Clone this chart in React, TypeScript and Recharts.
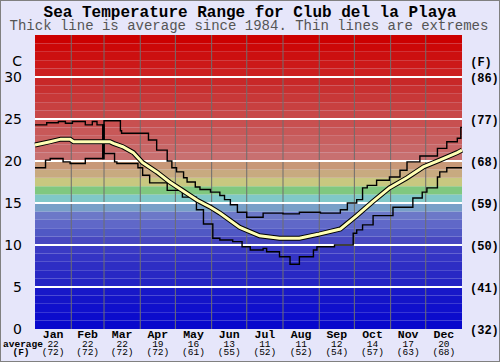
import React from "react";
import {
  LineChart,
  Line,
  XAxis,
  YAxis,
  ReferenceArea,
  ReferenceLine,
} from "recharts";

const monthNames = ["Jan", "Feb", "Mar", "Apr", "May", "Jun", "Jul", "Aug", "Sep", "Oct", "Nov", "Dec"];
const monthMidDays = [15.5, 45, 74.5, 105, 135.5, 166, 196.5, 227.5, 258, 288.5, 319, 349.5];
const monthEdgeDays = [31, 59, 90, 120, 151, 181, 212, 243, 273, 304, 334];
const monthAvgC = [22, 22, 22, 19, 16, 13, 11, 11, 12, 14, 17, 20];
const monthAvgF = [72, 72, 72, 72, 61, 55, 52, 52, 54, 57, 63, 68];

const celsiusTicks = [0, 5, 10, 15, 20, 25, 30];
const whiteLines = [5, 10, 15, 20, 25, 30];

// day of year -> deg C
const maxDays = [0, 10, 20, 26, 32, 43, 49, 53, 58, 59, 73, 74, 97, 104, 113, 117, 121, 127, 130, 137, 141, 150, 158, 162, 167, 173, 181, 195, 212, 226, 244, 261, 267, 275, 280, 284, 292, 303, 312, 318, 329, 344, 352, 361, 364, 365];
const maxTemps = [24.3, 24.55, 24.7, 24.5, 24.7, 24.3, 24.7, 24.3, 20.3, 24.8, 23.6, 23.3, 22.5, 21.3, 20.0, 19.2, 18.7, 18.0, 17.5, 16.9, 16.6, 16.3, 15.9, 15.4, 14.8, 13.9, 13.3, 13.8, 13.7, 13.9, 13.8, 14.2, 15.0, 15.4, 16.8, 17.1, 17.7, 18.1, 18.9, 19.9, 20.6, 21.5, 22.3, 22.7, 24.0, 24.0];

const minDays = [0, 9, 13, 24, 30, 43, 58, 59, 68, 70, 88, 92, 98, 113, 126, 138, 144, 152, 158, 169, 177, 184, 195, 198, 209, 218, 226, 238, 241, 256, 272, 275, 280, 289, 306, 323, 331, 335, 344, 346, 352, 365];
const minTemps = [19.2, 20.1, 20.3, 19.9, 19.7, 20.3, 24.3, 20.9, 19.9, 19.7, 19.2, 18.3, 17.4, 16.5, 15.7, 14.2, 12.5, 10.8, 10.6, 10.4, 9.8, 9.4, 9.6, 9.2, 8.6, 7.7, 8.6, 9.4, 9.8, 10.0, 11.4, 11.8, 12.4, 13.5, 14.5, 15.6, 16.3, 16.8, 18.1, 18.7, 19.2, 19.2];

const avgDays = [0, 13, 22, 30, 33, 50, 64, 67, 75, 84, 92, 104, 115, 126, 139, 150, 158, 175, 192, 209, 226, 243, 261, 275, 289, 303, 318, 332, 346, 361, 365];
const avgTemps = [21.9, 22.3, 22.6, 22.6, 22.3, 22.3, 22.3, 22.1, 21.7, 21.0, 19.8, 18.7, 17.5, 16.5, 15.3, 14.5, 13.8, 12.1, 11.1, 10.8, 10.8, 11.3, 11.9, 13.5, 15.2, 16.8, 18.0, 19.3, 20.1, 21.0, 21.3];

// one colour per 1 degree band, from 0 upwards
const bandColors = [
  "#0808cc", "#0c0ccc", "#1010cc", "#1414c8", "#1818c8",
  "#2424c4", "#2828c4", "#2e2ec4", "#3434c4", "#3a3ac4",
  "#4848c0", "#5058c4", "#6068c8", "#6c78c8", "#78a0c8",
  "#80c8c8", "#80c880", "#c8c880", "#c8aa80", "#c89878",
  "#c87070", "#c86868", "#c86060", "#c85858", "#c85050",
  "#c84848", "#c84040", "#c83838", "#c83030", "#c82828",
  "#cc2020", "#cc1818", "#cc1010", "#cc0808", "#cc0000",
];

const maxData = maxDays.map((day, i) => ({ day, t: maxTemps[i] }));
const minData = minDays.map((day, i) => ({ day, t: minTemps[i] }));
const avgData = avgDays.map((day, i) => ({ day, t: avgTemps[i] }));

const mono = "'Liberation Mono', 'DejaVu Sans Mono', monospace";
const sans = "'DejaVu Sans', Verdana, sans-serif";

function MonthTick(props: any) {
  const { x, y, index } = props;
  return (
    <g fontFamily={mono} textAnchor="middle" fill="#000">
      <text x={x} y={y + 8.5} fontSize={11.5} fontWeight={700}>
        {monthNames[index]}
      </text>
      <text x={x} y={y + 17.5} fontSize={9.5}>
        {monthAvgC[index]}
      </text>
      <text x={x} y={y + 25.5} fontSize={9.5}>
        ({monthAvgF[index]})
      </text>
    </g>
  );
}

function FahrenheitTick(props: any) {
  const { x, y, payload } = props;
  return (
    <text x={x} y={y + 4.5} textAnchor="start" fontFamily={mono} fontWeight={700} fontSize={12} fill="#000">
      ({Math.round((payload.value * 9) / 5 + 32)})
    </text>
  );
}

export default function App() {
  return (
    <div
      style={{
        position: "absolute",
        left: 0,
        top: 0,
        width: 500,
        height: 362,
        background: "#e6e6fa",
        outline: "1px solid #808080",
        outlineOffset: -1,
      }}
    >
      <LineChart
        width={500}
        height={362}
        margin={{ top: 35, right: 0, bottom: 0, left: 0 }}
      >
        <XAxis
          dataKey="day"
          type="number"
          domain={[0, 365]}
          ticks={monthMidDays}
          interval={0}
          tick={<MonthTick />}
          tickSize={0}
          tickMargin={0}
          axisLine={false}
          height={33}
        />
        <YAxis
          yAxisId="c"
          domain={[0, 35]}
          ticks={celsiusTicks}
          width={35}
          tickSize={0}
          tickMargin={13}
          axisLine={false}
          tick={{ fill: "#000", fontSize: 14, fontFamily: sans }}
        />
        <YAxis
          yAxisId="f"
          orientation="right"
          domain={[0, 35]}
          ticks={celsiusTicks}
          interval={0}
          width={38}
          tickSize={0}
          tickMargin={8}
          axisLine={false}
          tick={<FahrenheitTick />}
        />
        {bandColors.map((color, i) => (
          <ReferenceArea
            key={"band" + i}
            yAxisId="c"
            y1={i}
            y2={i + 1}
            fill={color}
            fillOpacity={1}
            stroke="none"
          />
        ))}
        {monthEdgeDays.map((d) => (
          <ReferenceLine key={"m" + d} yAxisId="c" x={d} stroke="#6e6e6e" strokeWidth={1} />
        ))}
        {whiteLines.map((v) => (
          <ReferenceLine key={"h" + v} yAxisId="c" y={v} stroke="#ffffff" strokeWidth={2} />
        ))}
        <Line
          yAxisId="f"
          data={avgData}
          dataKey="t"
          stroke="none"
          dot={false}
          legendType="none"
          isAnimationActive={false}
        />
        <Line
          yAxisId="c"
          data={maxData}
          dataKey="t"
          type="stepAfter"
          stroke="#000"
          strokeWidth={1.4}
          dot={false}
          isAnimationActive={false}
        />
        <Line
          yAxisId="c"
          data={minData}
          dataKey="t"
          type="stepAfter"
          stroke="#000"
          strokeWidth={1.4}
          dot={false}
          isAnimationActive={false}
        />
        <Line
          yAxisId="c"
          data={avgData}
          dataKey="t"
          type="linear"
          stroke="#000"
          strokeWidth={5}
          dot={false}
          isAnimationActive={false}
        />
        <Line
          yAxisId="c"
          data={avgData}
          dataKey="t"
          type="linear"
          stroke="#ffffb4"
          strokeWidth={3}
          dot={false}
          isAnimationActive={false}
        />
      </LineChart>
      <svg
        width={500}
        height={362}
        style={{ position: "absolute", left: 0, top: 0, pointerEvents: "none" }}
      >
        <text x={250} y={17} textAnchor="middle" fontFamily={mono} fontWeight={700} fontSize={16} fill="#000">
          Sea Temperature Range for Club del la Playa
        </text>
        <text x={249} y={30} textAnchor="middle" fontFamily={mono} fontSize={14} fill="#555">
          Thick line is average since 1984. Thin lines are extremes
        </text>
        <text x={22} y={66} textAnchor="end" fontFamily={sans} fontSize={14} fill="#000">
          C
        </text>
        <text x={481} y={66} textAnchor="middle" fontFamily={mono} fontWeight={700} fontSize={12} fill="#000">
          (F)
        </text>
        <text x={23} y={346.5} textAnchor="middle" fontFamily={mono} fontWeight={700} fontSize={9.5} fill="#000">
          average
        </text>
        <text x={21} y={354.5} textAnchor="middle" fontFamily={mono} fontWeight={700} fontSize={9.5} fill="#000">
          (F)
        </text>
      </svg>
    </div>
  );
}
